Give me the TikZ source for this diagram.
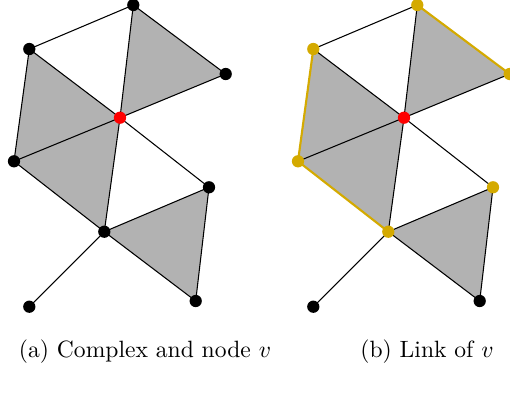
\documentclass[tikz,border=0pt]{standalone}
\begin{document}
\begin{tikzpicture}[x=0.424pt,y=-0.424pt,
  dot/.style={circle,fill=black,inner sep=0pt,minimum size=5.2pt},
  reddot/.style={dot,fill=red},
  linkdot/.style={dot,fill=linkc},
  tri/.style={fill=black!30},
  edge/.style={line width=0.45pt},
  linkedge/.style={line width=0.9pt,draw=linkc},
  captext/.style={font=\normalsize,inner sep=0pt}]
\definecolor{linkc}{RGB}{212,170,0}
\useasboundingbox (0,0) rectangle (510,392);
% ---- (a)
\begin{scope}
\coordinate (A) at (133.3,5);
\coordinate (B) at (29.3,49);
\coordinate (C) at (225.7,74);
\coordinate (V) at (120,117.7);
\coordinate (D) at (14,161.3);
\coordinate (E) at (209,187.3);
\coordinate (F) at (104.3,231.7);
\coordinate (G) at (29.3,306.7);
\coordinate (H) at (195.7,301);
\fill[tri] (A)--(V)--(C)--cycle;
\fill[tri] (B)--(D)--(V)--cycle;
\fill[tri] (D)--(F)--(V)--cycle;
\fill[tri] (F)--(E)--(H)--cycle;
\draw[edge] (A)--(B) (A)--(V) (A)--(C) (V)--(C) (B)--(V) (B)--(D) (D)--(V)
  (D)--(F) (F)--(V) (V)--(E) (E)--(F) (E)--(H) (F)--(H) (F)--(G);
\node[dot] (nA) at (A) {};
\node[dot] (nB) at (B) {};
\node[dot] (nC) at (C) {};
\node[reddot] (nV) at (V) {};
\node[dot] (nD) at (D) {};
\node[dot] (nE) at (E) {};
\node[dot] (nF) at (F) {};
\node[dot] (nG) at (G) {};
\node[dot] (nH) at (H) {};
\end{scope}
% ---- (b)
\begin{scope}[xshift=284*0.424pt]
\coordinate (A2) at (133.3,5);
\coordinate (B2) at (29.3,49);
\coordinate (C2) at (225.7,74);
\coordinate (V2) at (120,117.7);
\coordinate (D2) at (14,161.3);
\coordinate (E2) at (209,187.3);
\coordinate (F2) at (104.3,231.7);
\coordinate (G2) at (29.3,306.7);
\coordinate (H2) at (195.7,301);
\fill[tri] (A2)--(V2)--(C2)--cycle;
\fill[tri] (B2)--(D2)--(V2)--cycle;
\fill[tri] (D2)--(F2)--(V2)--cycle;
\fill[tri] (F2)--(E2)--(H2)--cycle;
\draw[edge] (A2)--(B2) (A2)--(V2) (V2)--(C2) (B2)--(V2) (D2)--(V2)
  (F2)--(V2) (V2)--(E2) (E2)--(F2) (E2)--(H2) (F2)--(H2) (F2)--(G2);
\draw[linkedge] (A2)--(C2) (B2)--(D2) (D2)--(F2);
\node[linkdot] (mA) at (A2) {};
\node[linkdot] (mB) at (B2) {};
\node[linkdot] (mC) at (C2) {};
\node[reddot] (mV) at (V2) {};
\node[linkdot] (mD) at (D2) {};
\node[linkdot] (mE) at (E2) {};
\node[linkdot] (mF) at (F2) {};
\node[dot] (mG) at (G2) {};
\node[dot] (mH) at (H2) {};
\end{scope}
\node[captext] (capa) at (145,352) {(a) Complex and node $v$};
\node[captext] (capb) at (427,352) {(b) Link of $v$};
\end{tikzpicture}
\end{document}
